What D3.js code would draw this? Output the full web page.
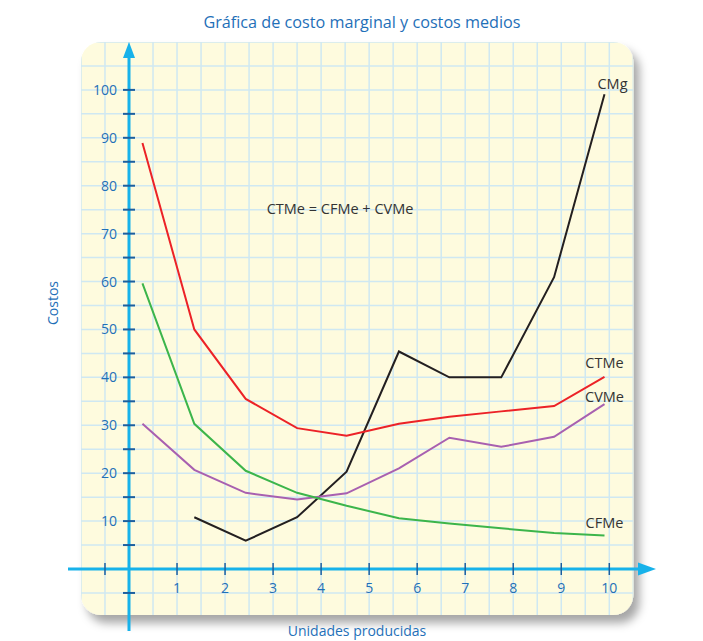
<!DOCTYPE html>
<html>
<head>
<meta charset="utf-8">
<script src="https://cdn.jsdelivr.net/npm/d3@7"></script>
<style>
  body { margin: 0; background: #fff; }
  text { font-family: "Open Sans", sans-serif; }
</style>
</head>
<body>
<svg id="chart" width="703" height="641"></svg>
<script>
// units produced (x) for every point
const units = [0.28, 1.36, 2.43, 3.5, 4.53, 5.62, 6.67, 7.75, 8.85, 9.9];
// costs per series (null = no point)
const cmg  = [null, 10.8, 5.9, 10.8, 20.3, 45.4, 40.0, 40.0, 60.9, 99.1];
const ctme = [88.9, 50.0, 35.5, 29.4, 27.8, 30.3, 31.8, 32.9, 34.0, 40.1];
const cvme = [30.3, 20.7, 15.9, 14.5, 15.8, 21.0, 27.4, 25.5, 27.6, 34.4];
const cfme = [59.6, 30.3, 20.5, 15.9, 13.2, 10.6, 9.5, 8.5, 7.5, 7.0];
const seriesNames = ["CMg", "CTMe", "CVMe", "CFMe"];
const xTicks = [-0.5, 1, 2, 3, 4, 5, 6, 7, 8, 9, 10];
const yTicks = [-5, 5, 10, 15, 20, 25, 30, 35, 40, 45, 50, 55, 60, 65, 70, 75, 80, 85, 90, 95, 100];
const yLabels = [10, 20, 30, 40, 50, 60, 70, 80, 90, 100];
const xLabels = [1, 2, 3, 4, 5, 6, 7, 8, 9, 10];

const svg = d3.select("#chart");
const x = d3.scaleLinear().domain([0, 10]).range([129, 609.3]);
const y = d3.scaleLinear().domain([0, 100]).range([569, 89.9]);

const blue = "#1f70b8", axisBlue = "#17b2ea";

// drop shadow for the paper
const defs = svg.append("defs");
const f = defs.append("filter").attr("id", "shadow")
  .attr("x", "-10%").attr("y", "-10%").attr("width", "130%").attr("height", "130%");
f.append("feDropShadow").attr("dx", 6).attr("dy", 8).attr("stdDeviation", 5)
  .attr("flood-color", "#000").attr("flood-opacity", 0.35);

const px0 = x(-1), px1 = x(10.5), py0 = y(110), py1 = y(-9.6);
defs.append("clipPath").attr("id", "paper")
  .append("rect").attr("x", px0).attr("y", py0)
  .attr("width", px1 - px0).attr("height", py1 - py0).attr("rx", 20);

svg.append("rect")
  .attr("x", px0).attr("y", py0)
  .attr("width", px1 - px0).attr("height", py1 - py0).attr("rx", 20)
  .attr("fill", "#fefbde")
  .attr("filter", "url(#shadow)");

// grid
const grid = svg.append("g").attr("clip-path", "url(#paper)")
  .attr("stroke", "#cfe8f2").attr("stroke-width", 1.5);
grid.selectAll(".gx").data(d3.range(-1, 10.51, 0.5)).enter().append("line")
  .attr("x1", d => x(d)).attr("x2", d => x(d)).attr("y1", py0).attr("y2", py1);
grid.selectAll(".gy").data(d3.range(-10, 110.1, 5)).enter().append("line")
  .attr("y1", d => y(d)).attr("y2", d => y(d)).attr("x1", px0).attr("x2", px1);

// axes
svg.append("line").attr("x1", 68).attr("x2", 640).attr("y1", y(0)).attr("y2", y(0))
  .attr("stroke", axisBlue).attr("stroke-width", 3);
svg.append("line").attr("x1", x(0)).attr("x2", x(0)).attr("y1", 56).attr("y2", 631)
  .attr("stroke", axisBlue).attr("stroke-width", 3);
svg.append("path").attr("fill", axisBlue)
  .attr("d", `M${x(0)},42 L${x(0) - 6},58 L${x(0) + 6},58 Z`);
svg.append("path").attr("fill", axisBlue)
  .attr("d", `M656,${y(0)} L638,${y(0) - 6.5} L638,${y(0) + 6.5} Z`);

svg.selectAll(".yt").data(yTicks).enter().append("line")
  .attr("x1", x(0) - 6).attr("x2", x(0) + 6)
  .attr("y1", d => y(d)).attr("y2", d => y(d))
  .attr("stroke", "#1c5f9e").attr("stroke-width", 2);
svg.selectAll(".xt").data(xTicks).enter().append("line")
  .attr("y1", y(0) - 6).attr("y2", y(0) + 6)
  .attr("x1", d => x(d)).attr("x2", d => x(d))
  .attr("stroke", "#1c5f9e").attr("stroke-width", 1.5);

svg.selectAll(".yl").data(yLabels).enter().append("text")
  .attr("x", 117).attr("y", d => y(d) + 5)
  .attr("text-anchor", "end").attr("font-size", 14).attr("fill", blue)
  .text(d => d);
svg.selectAll(".xl").data(xLabels).enter().append("text")
  .attr("x", d => x(d)).attr("y", 593)
  .attr("text-anchor", "middle").attr("font-size", 14).attr("fill", blue)
  .text(d => d);

// titles
svg.append("text").attr("x", 362).attr("y", 28).attr("text-anchor", "middle")
  .attr("font-size", 16.2).attr("fill", blue)
  .text("Gráfica de costo marginal y costos medios");
svg.append("text").attr("transform", "translate(58,303) rotate(-90)")
  .attr("text-anchor", "middle").attr("font-size", 14).attr("fill", blue)
  .text("Costos");
svg.append("text").attr("x", 357).attr("y", 636).attr("text-anchor", "middle")
  .attr("font-size", 14).attr("fill", blue)
  .text("Unidades producidas");

// curves
const seriesVals = [cmg, ctme, cvme, cfme];
const colors = ["#231f20", "#ec2227", "#a860b0", "#3cb54b"];
const labelOff = [[8, -5], [0, -9], [0, -2], [0, -7]];
const line = d3.line().defined(d => d[1] != null).x(d => x(d[0])).y(d => y(d[1]));

seriesVals.forEach((vals, i) => {
  const pts = units.map((u, j) => [u, vals[j]]);
  svg.append("path").datum(pts)
    .attr("d", line).attr("fill", "none")
    .attr("stroke", colors[i]).attr("stroke-width", 2);
  const last = pts[pts.length - 1];
  svg.append("text")
    .attr("x", x(last[0]) + labelOff[i][0])
    .attr("y", y(last[1]) + labelOff[i][1])
    .attr("text-anchor", "middle").attr("font-size", 14.5).attr("fill", "#333")
    .text(seriesNames[i]);
});

svg.append("text").attr("x", 340).attr("y", 214).attr("text-anchor", "middle")
  .attr("font-size", 14.5).attr("fill", "#333")
  .text("CTMe = CFMe + CVMe");
</script>
</body>
</html>
